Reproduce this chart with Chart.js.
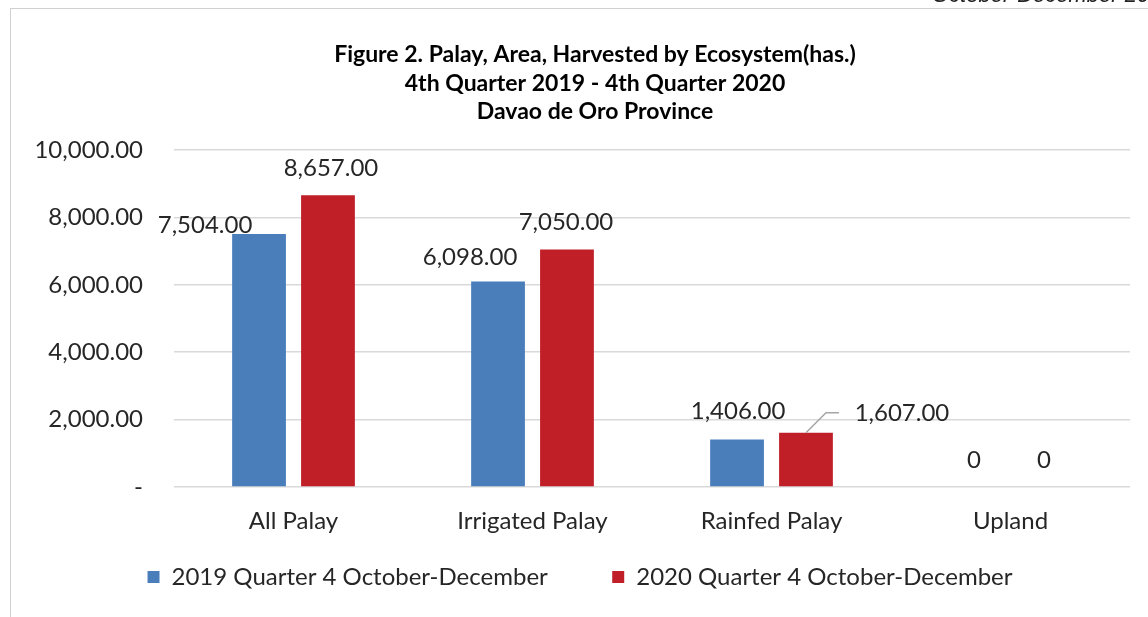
<!DOCTYPE html>
<html>
<head>
<meta charset="utf-8">
<script src="https://cdn.jsdelivr.net/npm/chart.js@4/dist/chart.umd.min.js"></script>
<style>
  html, body { margin: 0; padding: 0; background: #fff; overflow: hidden; }
  #wrap { position: relative; width: 1148px; height: 617px; }
  #frame { position: absolute; left: 10px; top: 8px; right: -2px; bottom: -2px; border-left: 1px solid #d0d0d0; border-top: 1px solid #d0d0d0; pointer-events: none; }
  #pageNote { position: absolute; left: 932px; top: -18px; font: italic 22px "Liberation Sans", Arial, sans-serif; color: #222; white-space: nowrap; }
</style>
</head>
<body>
<div id="wrap">
  <div id="pageNote">October-December 2020</div>
  <div id="frame"></div>
  <canvas id="myChart"></canvas>
</div>
<script>
// categories and series
var categories = ['All Palay', 'Irrigated Palay', 'Rainfed Palay', 'Upland'];
var series2019 = [7504, 6098, 1406, 0];
var series2020 = [8657, 7050, 1607, 0];
var seriesNames = ['2019 Quarter 4 October-December', '2020 Quarter 4 October-December'];
var yTicks = [0, 2000, 4000, 6000, 8000, 10000];
var titleLines = ['Figure 2. Palay, Area, Harvested by Ecosystem(has.)', '4th Quarter 2019 - 4th Quarter 2020', 'Davao de Oro Province'];

// where Excel put each data label, relative to the top of its bar (dx, dy)
var labelShift = [
  [[-54, -9], [-28, -24], [1, -28], [-2, -27]],
  [[3, -27], [-1, -27], [96, -20], [-1, -27]]
];

function fmt(v) {
  if (v === 0) return '0';
  return v.toLocaleString('en-US', { minimumFractionDigits: 2, maximumFractionDigits: 2 });
}

var fontName = 'Lato, "Open Sans", sans-serif';

// title (centred like the Excel one, not on the canvas) + value labels
var extras = {
  id: 'extras',
  afterDraw: function(chart) {
    var ctx = chart.ctx;
    ctx.save();
    ctx.font = 'bold 23px ' + fontName;
    ctx.fillStyle = '#000';
    ctx.textAlign = 'center';
    ctx.textBaseline = 'middle';
    titleLines.forEach(function(t, i) {
      ctx.fillText(t, 595, 55 + i * 28.5);
    });
    ctx.restore();
  },
  afterDatasetsDraw: function(chart) {
    var ctx = chart.ctx;
    ctx.save();
    ctx.font = '24px ' + fontName;
    ctx.fillStyle = '#262626';
    ctx.textAlign = 'center';
    ctx.textBaseline = 'middle';
    chart.data.datasets.forEach(function(ds, i) {
      var meta = chart.getDatasetMeta(i);
      meta.data.forEach(function(bar, j) {
        var sh = labelShift[i][j];
        var x = bar.x + sh[0], y = bar.y + sh[1];
        if (sh[0] > 50) {
          // leader line
          ctx.strokeStyle = '#a6a6a6';
          ctx.lineWidth = 1.5;
          ctx.beginPath();
          ctx.moveTo(bar.x, bar.y);
          ctx.lineTo(bar.x + 20, y);
          ctx.lineTo(bar.x + 33, y);
          ctx.stroke();
        }
        ctx.fillText(fmt(ds.data[j]), x, y);
      });
    });
    ctx.restore();
  }
};

var ctx = document.getElementById('myChart').getContext('2d');
var chart = new Chart(ctx, {
  type: 'bar',
  data: {
    labels: categories,
    datasets: [{
      label: seriesNames[0],
      backgroundColor: '#4a7ebb',
      data: series2019
    }, {
      label: seriesNames[1],
      backgroundColor: '#c01f28',
      data: series2020
    }]
  },
  options: {
    responsive: true,
    maintainAspectRatio: false,
    animation: false,
    categoryPercentage: 0.577,
    barPercentage: 0.78,
    layout: { padding: { left: 30, right: 18, top: 150, bottom: 18 } },
    plugins: {
      title: { display: false },
      legend: {
        position: 'bottom',
        labels: {
          color: '#262626',
          font: { family: fontName, size: 24 },
          boxWidth: 12,
          boxHeight: 12,
          padding: 10,
          generateLabels: function(chart) {
            var items = Chart.defaults.plugins.legend.labels.generateLabels(chart);
            // Excel leaves a wide gap between the two entries
            items[0].text = items[0].text + '\u2003\u2003   ';
            return items;
          }
        }
      },
      tooltip: { enabled: false }
    },
    scales: {
      x: {
        grid: { display: false, drawTicks: false },
        border: { display: false },
        afterFit: function(axis) { axis.height = 68; },
        ticks: { color: '#262626', font: { family: fontName, size: 24 }, padding: 20 }
      },
      y: {
        min: 0,
        max: 10000,
        afterBuildTicks: function(axis) {
          axis.ticks = yTicks.map(function(v) { return { value: v }; });
        },
        afterFit: function(axis) { axis.width = 144; },
        grid: { color: '#d9d9d9', lineWidth: 1.5, drawTicks: false },
        border: { display: false },
        ticks: {
          color: '#262626',
          font: { family: fontName, size: 24 },
          padding: 31,
          callback: function(v) { return v === 0 ? '-' : fmt(v); }
        }
      }
    }
  },
  plugins: [extras]
});
</script>
</body>
</html>
